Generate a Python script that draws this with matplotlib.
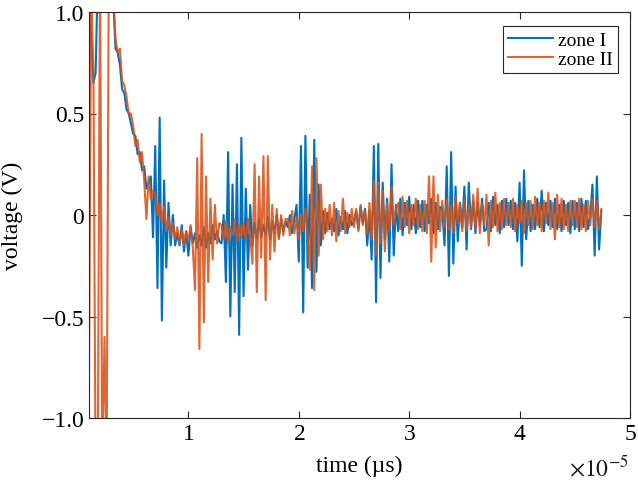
import numpy as np
import matplotlib
matplotlib.use("Agg")
import matplotlib.pyplot as plt

# sampled signals, time base in units of 1e-5 s
t_start = 0.10
t_step = 0.02

zone1 = [
    1.10, 0.85, 0.65, 0.70, 1.20, 1.30, 1.30, 1.30, 1.20, 1.20,
    1.20, 1.05, 0.82, 0.80, 0.74, 0.62, 0.60, 0.52, 0.50, 0.45,
    0.40, 0.39, 0.30, 0.31, 0.22, 0.24, 0.13, 0.16, 0.19, -0.11,
    0.34, -0.36, 0.48, -0.52, 0.17, -0.26, 0.06, -0.15, 0.00, -0.15,
    -0.09, -0.15, -0.05, -0.18, -0.08, -0.20, -0.06, -0.14, -0.09, -0.16,
    -0.10, -0.15, -0.06, -0.16, -0.09, -0.14, -0.05, -0.12, -0.08, -0.13,
    -0.14, 0.00, -0.33, 0.31, -0.50, 0.15, -0.38, 0.25, -0.59, 0.38,
    -0.40, 0.13, -0.27, 0.05, -0.15, -0.04, -0.12, -0.02, -0.11, -0.05,
    -0.10, -0.01, -0.12, -0.03, -0.09, 0.00, -0.11, -0.02, -0.08, -0.03,
    -0.06, 0.00, -0.09, -0.02, 0.05, -0.23, 0.34, -0.48, 0.39, -0.26,
    0.10, -0.36, 0.37, -0.28, 0.15, -0.15, 0.02, -0.09, 0.01, -0.07,
    -0.02, -0.08, 0.03, -0.10, -0.01, -0.07, 0.02, -0.09, 0.00, -0.05,
    -0.03, 0.02, -0.07, 0.04, -0.04, 0.03, -0.15, 0.02, -0.22, 0.34,
    -0.43, 0.35, -0.31, 0.16, -0.12, 0.08, -0.23, 0.25, -0.20, 0.05,
    -0.08, 0.08, -0.10, 0.06, -0.05, 0.09, -0.07, 0.05, -0.09, 0.07,
    -0.06, 0.07, -0.08, 0.05, -0.04, 0.08, -0.09, 0.06, -0.07, 0.04,
    0.03, -0.15, 0.24, -0.30, 0.31, -0.24, 0.14, -0.13, 0.06, -0.06,
    0.14, -0.17, 0.16, -0.07, 0.07, -0.09, 0.06, -0.05, 0.08, -0.08,
    -0.07, 0.06, -0.08, 0.09, -0.05, 0.05, -0.09, 0.07, -0.06, 0.08,
    -0.05, 0.07, -0.07, 0.06, -0.13, 0.16, -0.25, 0.22, -0.12, 0.07,
    -0.08, 0.05, -0.07, 0.08, -0.06, 0.12, -0.08, 0.06, -0.05, 0.07,
    -0.06, 0.08, -0.07, 0.05, -0.08, 0.07, -0.05, 0.06, -0.09, 0.07,
    -0.07, 0.06, -0.08, 0.08, -0.06, 0.07, -0.07, 0.00, 0.15, -0.20,
    0.19, -0.17, 0.02,
]

zone2 = [
    -0.77, 1.10, 0.72, -1.30, -1.20, 1.30, -1.30, -0.60, -1.20, 1.30,
    1.30, 1.10, 0.87, 0.80, 0.82, 0.66, 0.64, 0.58, 0.50, 0.50,
    0.44, 0.34, 0.37, 0.26, 0.31, 0.17, -0.02, 0.19, 0.08, 0.12,
    0.10, 0.00, 0.06, -0.04, 0.04, -0.08, -0.01, -0.10, -0.04, -0.12,
    -0.06, -0.14, -0.07, -0.15, -0.08, -0.13, -0.05, -0.16, -0.37, 0.28,
    -0.66, 0.40, -0.53, 0.19, -0.33, 0.08, -0.22, 0.05, -0.14, -0.04,
    -0.05, -0.12, -0.03, -0.14, -0.06, -0.10, -0.02, -0.13, -0.05, -0.11,
    -0.04, -0.12, -0.02, -0.10, -0.24, 0.25, -0.38, 0.19, -0.21, 0.29,
    -0.42, 0.29, -0.22, 0.05, -0.18, 0.03, -0.12, 0.00, -0.10, -0.02,
    -0.02, -0.10, 0.02, -0.09, -0.01, -0.12, 0.00, -0.08, 0.03, -0.11,
    -0.27, 0.24, -0.37, 0.28, -0.20, 0.15, -0.12, 0.03, -0.08, 0.05,
    -0.10, 0.06, -0.13, 0.02, -0.08, 0.08, -0.09, 0.01, -0.06, 0.03,
    -0.06, 0.03, -0.08, 0.05, -0.05, 0.02, -0.09, 0.06, -0.12, 0.17,
    -0.20, 0.16, -0.14, 0.12, -0.18, 0.06, -0.08, 0.14, -0.05, 0.03,
    0.06, -0.07, 0.09, -0.06, 0.07, -0.09, 0.05, -0.05, 0.08, -0.07,
    0.05, -0.08, 0.07, -0.09, 0.19, -0.23, 0.19, -0.16, 0.10, -0.08,
    0.07, -0.06, 0.08, -0.07, 0.05, -0.09, 0.09, -0.04, 0.06, -0.08,
    0.07, -0.08, 0.05, -0.06, 0.10, -0.07, 0.13, -0.09, 0.06, -0.05,
    0.10, -0.15, 0.07, -0.06, 0.11, -0.08, 0.06, -0.07, 0.08, -0.05,
    0.06, -0.06, 0.08, -0.08, 0.05, -0.04, 0.07, -0.09, 0.06, -0.05,
    0.07, -0.07, 0.09, -0.05, 0.06, -0.08, 0.07, -0.04, 0.11, -0.07,
    0.06, -0.12, 0.10, -0.06, 0.08, -0.07, 0.05, -0.08, 0.07, -0.05,
    0.07, -0.06, 0.08, -0.07, 0.05, -0.08, 0.07, -0.05, 0.08, -0.06,
    0.07, -0.07, 0.03,
]

labels = ["zone I", "zone II"]
y_ticks = [-1.0, -0.5, 0.0, 0.5, 1.0]
y_ticklabels = ["\u22121.0", "\u22120.5", "0", "0.5", "1.0"]
x_ticks = [1e-5, 2e-5, 3e-5, 4e-5, 5e-5]

plt.rcParams['font.family'] = ['Liberation Serif', 'DejaVu Serif']
plt.rcParams['mathtext.fontset'] = 'stix'

t = (t_start + t_step * np.arange(len(zone1))) * 1e-5

fig = plt.figure(figsize=(6.38, 4.85), dpi=100)
ax = fig.add_axes([89 / 638, 66 / 485, 541 / 638, 406 / 485])

ax.plot(t, zone1, color='#0072BD', lw=1.5, label=labels[0])
ax.plot(t, zone2, color='#D95319', lw=1.5, alpha=0.88, label=labels[1])

ax.set_xlim(1e-6, 5e-5)
ax.set_ylim(-1, 1)
ax.set_xticks(x_ticks)
ax.set_yticks(y_ticks)
ax.set_yticklabels(y_ticklabels)
ax.ticklabel_format(axis='x', style='sci', scilimits=(0, 0), useMathText=True)
ax.xaxis.get_offset_text().set_visible(False)
fig.text(629 / 638, 0.008, r'$\times10^{-5}$', ha='right', va='bottom',
         fontsize=17, color='0.1')

ax.tick_params(direction='in', top=True, right=True, labelsize=17,
               length=5, width=0.8, colors='0.15', labelcolor='black')
for s in ax.spines.values():
    s.set_color('0.15')
    s.set_linewidth(0.8)

ax.set_xlabel("time (\u00b5s)", fontsize=17, labelpad=8)
ax.set_ylabel("voltage (V)", fontsize=17, labelpad=13)

leg = ax.legend(loc='upper right', bbox_to_anchor=(0.978, 0.965), borderaxespad=0,
                fontsize=14, fancybox=False, framealpha=1, edgecolor='0.15',
                handlelength=2.3, handletextpad=0.3, borderpad=0.25,
                labelspacing=0.1)
leg.get_frame().set_linewidth(0.8)

fig.savefig("out.png", dpi=100)
